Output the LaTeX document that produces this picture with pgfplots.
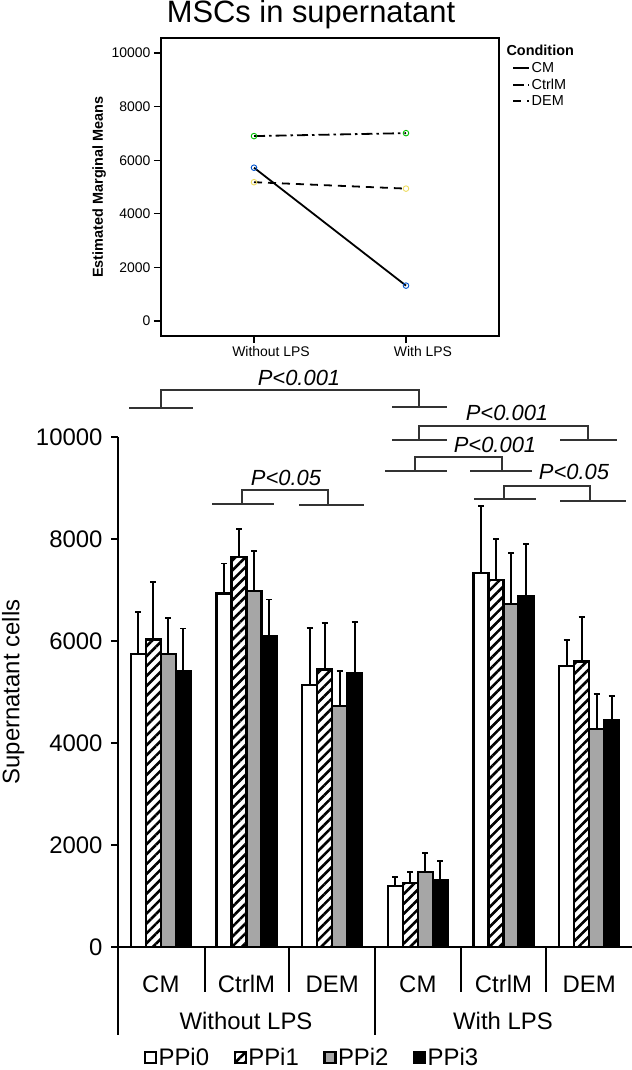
\documentclass[border=0pt]{standalone}
\usepackage{fontspec}
\setmainfont{Liberation Sans}
\usepackage{pgfplots}
\pgfplotsset{compat=1.18}
\usepackage{pgfplotstable}
\usetikzlibrary{patterns.meta}

% bottom chart: group index, mean, upper error
\pgfplotstableread[row sep=\\]{
x y e\\
0 5750 820\\
1 6930 590\\
2 5130 1130\\
3 1200 180\\
4 7340 1310\\
5 5510 510\\
}\ppizero
\pgfplotstableread[row sep=\\]{
x y e\\
0 6030 1130\\
1 7650 540\\
2 5440 920\\
3 1260 215\\
4 7190 805\\
5 5600 870\\
}\ppione
\pgfplotstableread[row sep=\\]{
x y e\\
0 5740 715\\
1 6980 785\\
2 4730 680\\
3 1470 370\\
4 6720 1010\\
5 4280 680\\
}\ppitwo
\pgfplotstableread[row sep=\\]{
x y e\\
0 5415 830\\
1 6095 720\\
2 5380 995\\
3 1320 365\\
4 6880 1015\\
5 4450 475\\
}\ppithree

\tikzset{br/.style={line width=1.3bp, black!80}}

\begin{document}
\begin{tikzpicture}
\path[use as bounding box] (0,0) rectangle (632bp,-1070bp);

\node[font=\fontsize{31}{34}\selectfont] at (311bp,-15bp) {MSCs in supernatant};

% ---------------- top: estimated marginal means ----------------
\begin{axis}[
  at={(161bp,-38bp)}, anchor=north west,
  scale only axis, width=338bp, height=298bp,
  xmin=-0.612, xmax=1.612, ymin=-560, ymax=10560,
  xtick={0,1}, xticklabels={Without LPS, With LPS},
  ytick={0,2000,4000,6000,8000,10000},
  scaled y ticks=false,
  /pgf/number format/1000 sep={},
  /pgf/number format/assume math mode=true,
  tick pos=left, tick align=outside, major tick length=7bp,
  tick style={line width=1.2bp, black},
  axis line style={line width=2.2bp},
  ticklabel style={font=\fontsize{14}{16}\selectfont},
  xticklabel style={xshift=17bp},
  ylabel={\bfseries Estimated Marginal Means},
  ylabel style={font=\fontsize{14.5}{16}\selectfont, at={(axis description cs:-0.183,0.5)}, anchor=center},
  legend style={at={(axis description cs:1.039,0.925)}, anchor=north west, draw=none, fill=none,
    font=\fontsize{14.5}{16}\selectfont, inner sep=0pt, row sep=2bp, nodes={inner sep=1.5bp}},
  legend cell align=left,
  legend image code/.code={\draw[#1] (0bp,0bp) -- (16bp,0bp);},
]
\addplot[black, line width=1.8bp, mark=o, mark size=2.8bp,
  mark options={solid, draw=blue!60!cyan!80!black, line width=0.9bp}]
  coordinates {(0,5720) (1,1320)};
\addlegendentry{CM}
\addplot[black, line width=1.8bp, dash pattern=on 11bp off 4bp on 2.5bp off 4bp, mark=o, mark size=2.8bp,
  mark options={solid, draw=green!75!black, line width=0.9bp}]
  coordinates {(0,6900) (1,7010)};
\addlegendentry{CtrlM}
\addplot[black, line width=1.8bp, dash pattern=on 8bp off 6bp, mark=o, mark size=2.8bp,
  mark options={solid, draw=brown!40!yellow!70!white, line width=0.9bp}]
  coordinates {(0,5180) (1,4940)};
\addlegendentry{DEM}
\end{axis}
\node[anchor=west, font=\fontsize{14.5}{16}\selectfont\bfseries] at (503bp,-50bp) {Condition};

% ---------------- bottom: bar chart ----------------
\begin{axis}[
  at={(118bp,-947bp)}, anchor=south west,
  scale only axis, width=514bp, height=510bp,
  xmin=-0.5, xmax=5.5, ymin=0, ymax=10000,
  ybar=0pt, bar width=15bp, clip=false,
  axis lines*=left, axis line style={draw=none},
  xtick={0,1,2,3,4,5}, xticklabels={CM,CtrlM,DEM,CM,CtrlM,DEM},
  xtick style={draw=none},
  ytick={0,2000,4000,6000,8000,10000},
  scaled y ticks=false,
  /pgf/number format/1000 sep={},
  /pgf/number format/assume math mode=true,
  tick align=outside, major tick length=7bp,
  ytick style={line width=2bp, black},
  ticklabel style={font=\fontsize{24}{28}\selectfont},
  yticklabel style={xshift=-5bp},
  xticklabel style={anchor=center, yshift=-30bp},
  ylabel={Supernatant cells},
  ylabel style={font=\fontsize{24}{28}\selectfont, at={(axis description cs:-0.204,0.5)}, anchor=center},
  error bars/y dir=plus, error bars/y explicit,
  error bars/error bar style={line width=1.8bp, black},
  error bars/error mark options={rotate=90, mark size=3bp, line width=1.8bp, black},
  legend columns=4,
  legend style={at={(axis description cs:0.05,-0.217)}, anchor=west, draw=none, fill=none,
    font=\fontsize{24}{26}\selectfont, inner sep=0pt,
    nodes={inner sep=1.5bp},
    /tikz/every even column/.append style={column sep=23bp}},
  legend image code/.code={\draw[#1] (0bp,-5.5bp) rectangle (11bp,5.5bp);},
]
\addplot[draw=black, fill=white, line width=2.2bp] table[x=x, y=y, y error plus=e] {\ppizero};
\addlegendentry{PPi0}
\addplot[draw=black, fill=white, line width=2.2bp,
  postaction={pattern={Lines[angle=45, distance=7bp, line width=2.6bp]}}]
  table[x=x, y=y, y error plus=e] {\ppione};
\addlegendentry{PPi1}
\addplot[draw=black, fill=black!35, line width=2.2bp] table[x=x, y=y, y error plus=e] {\ppitwo};
\addlegendentry{PPi2}
\addplot[draw=black, fill=black, line width=2.2bp] table[x=x, y=y, y error plus=e] {\ppithree};
\addlegendentry{PPi3}
\end{axis}

% axis lines and category table
\draw[line width=2.5bp] (118bp,-437bp) -- (118bp,-1035bp);
\draw[line width=2.5bp] (112bp,-947bp) -- (632bp,-947bp);
\draw[line width=2.5bp] (375bp,-947bp) -- (375bp,-1035bp);
\foreach \xx in {205,289,461,546} \draw[line width=2.5bp] (\xx bp,-947bp) -- (\xx bp,-992bp);
\node[font=\fontsize{24}{28}\selectfont] at (246bp,-1021bp) {Without LPS};
\node[font=\fontsize{24}{28}\selectfont] at (503bp,-1021bp) {With LPS};

% significance brackets
\draw[br] (129bp,-408bp) -- (193bp,-408bp);
\draw[br] (392bp,-407bp) -- (447bp,-407bp);
\draw[br] (161bp,-408bp) -- (161bp,-390bp) -- (419bp,-390bp) -- (419bp,-407bp);
\node[font=\fontsize{22}{26}\selectfont\itshape] at (299bp,-378bp) {P<0.001};

\draw[br] (392bp,-440bp) -- (447bp,-440bp);
\draw[br] (560bp,-440bp) -- (617bp,-440bp);
\draw[br] (419bp,-440bp) -- (419bp,-426bp) -- (588bp,-426bp) -- (588bp,-440bp);
\node[font=\fontsize{22}{26}\selectfont\itshape] at (507bp,-413bp) {P<0.001};

\draw[br] (385bp,-471bp) -- (447bp,-471bp);
\draw[br] (470bp,-471bp) -- (532bp,-471bp);
\draw[br] (415bp,-471bp) -- (415bp,-457bp) -- (502bp,-457bp) -- (502bp,-471bp);
\node[font=\fontsize{22}{26}\selectfont\itshape] at (495bp,-445bp) {P<0.001};

\draw[br] (474bp,-499bp) -- (536bp,-499bp);
\draw[br] (560bp,-501bp) -- (626bp,-501bp);
\draw[br] (504bp,-499bp) -- (504bp,-486bp) -- (590bp,-486bp) -- (590bp,-501bp);
\node[font=\fontsize{22}{26}\selectfont\itshape] at (574bp,-472bp) {P<0.05};

\draw[br] (212bp,-504bp) -- (274bp,-504bp);
\draw[br] (299bp,-505bp) -- (364bp,-505bp);
\draw[br] (242bp,-504bp) -- (242bp,-490bp) -- (328bp,-490bp) -- (328bp,-505bp);
\node[font=\fontsize{22}{26}\selectfont\itshape] at (286bp,-478bp) {P<0.05};
\end{tikzpicture}
\end{document}
